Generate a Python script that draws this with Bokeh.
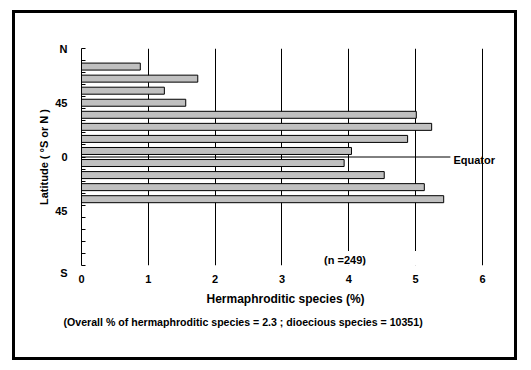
from bokeh.plotting import figure
from bokeh.models import Range1d, FixedTicker, Label, Title
from bokeh.embed import file_html
from bokeh.resources import INLINE

# ---- data ----
lat_band = [75, 65, 55, 45, 35, 25, 15, 5, -5, -15, -25, -35]   # centre of each 10-degree latitude band
herm_pct = [0.88, 1.74, 1.24, 1.56, 5.01, 5.24, 4.88, 4.04, 3.93, 4.53, 5.13, 5.42]
x_ticks = [0, 1, 2, 3, 4, 5, 6]
y_ticks = [90, 45, 0, -45, -90]
y_tick_labels = {90: "N", 45: "45", 0: "0", -45: "45", -90: "\nS"}
equator_end = 5.52
n_text = "(n =249)"
x_title = "Hermaphroditic species (%)"
y_title = "Latitude ( \u00b0S or N )"
footnote = "(Overall % of hermaphroditic species = 2.3 ; dioecious species = 10351)"

FONT = "Liberation Sans"

p = figure(width=505, height=350, output_backend="svg", toolbar_location=None,
           x_range=Range1d(0, 6.27), y_range=Range1d(-90, 90),
           min_border_left=66, min_border_right=20, min_border_top=35, min_border_bottom=98,
           styles={"margin-left": "12px", "margin-top": "10px",
                   "border": "3px solid black"})
p.outline_line_color = None
p.background_fill_color = "white"
p.border_fill_color = "white"

# grid
p.ygrid.grid_line_color = None
p.xgrid.ticker = FixedTicker(ticks=x_ticks[1:])
p.xgrid.grid_line_color = "black"
p.xgrid.grid_line_width = 1

# x axis
xa = p.xaxis[0]
xa.ticker = FixedTicker(ticks=x_ticks)
xa.axis_line_color = None
xa.major_tick_line_color = None
xa.minor_tick_line_color = None
xa.major_tick_out = 0
xa.major_tick_in = 0
xa.minor_tick_out = 0
xa.major_label_standoff = 9
xa.major_label_text_font = FONT
xa.major_label_text_font_style = "bold"
xa.major_label_text_font_size = "11px"
xa.major_label_text_color = "black"

# y axis
ya = p.yaxis[0]
ya.ticker = FixedTicker(ticks=y_ticks, minor_ticks=list(range(-90, 91, 10)))
ya.major_label_overrides = y_tick_labels
ya.axis_line_color = "black"
ya.axis_line_width = 1
ya.major_tick_line_color = None
ya.major_tick_out = 0
ya.major_tick_in = 0
ya.minor_tick_line_color = "black"
ya.minor_tick_in = 4
ya.minor_tick_out = 0
ya.major_label_standoff = 14
ya.major_label_text_font = FONT
ya.major_label_text_font_style = "bold"
ya.major_label_text_font_size = "11px"
ya.major_label_text_color = "black"

# titles around the frame
p.add_layout(Title(text=x_title, align="left", offset=125, standoff=9,
                   text_font=FONT, text_font_style="bold", text_font_size="12px",
                   text_color="black"), "below")
p.add_layout(Title(text=footnote, align="left", offset=-18, standoff=7,
                   text_font=FONT, text_font_style="bold", text_font_size="10.6px",
                   text_color="black"), "below")
p.add_layout(Title(text=y_title, align="center", offset=-8, standoff=6,
                   text_font=FONT, text_font_style="bold", text_font_size="11px",
                   text_color="black"), "left")

# equator line
p.segment(x0=[0], x1=[equator_end], y0=[0], y1=[0], line_color="black", line_width=1)

# bars
p.hbar(y=lat_band, left=0, right=herm_pct, height=5.8,
       fill_color="#c0c0c0", line_color="black", line_width=1)

# labels inside the frame
p.add_layout(Label(x=equator_end, y=0, text="Equator", x_offset=3, y_offset=-3,
                   text_baseline="middle", text_align="left", text_font=FONT,
                   text_font_style="bold", text_font_size="11px", text_color="black"))
p.add_layout(Label(x=3.6, y=-90, text=n_text, y_offset=6,
                   text_baseline="middle", text_align="left", text_font=FONT,
                   text_font_style="bold", text_font_size="11px", text_color="black",
                   background_fill_color="white",
                   padding=dict(left=2, right=52, top=3, bottom=2)))

open("out.html", "w").write(file_html(p, INLINE))
